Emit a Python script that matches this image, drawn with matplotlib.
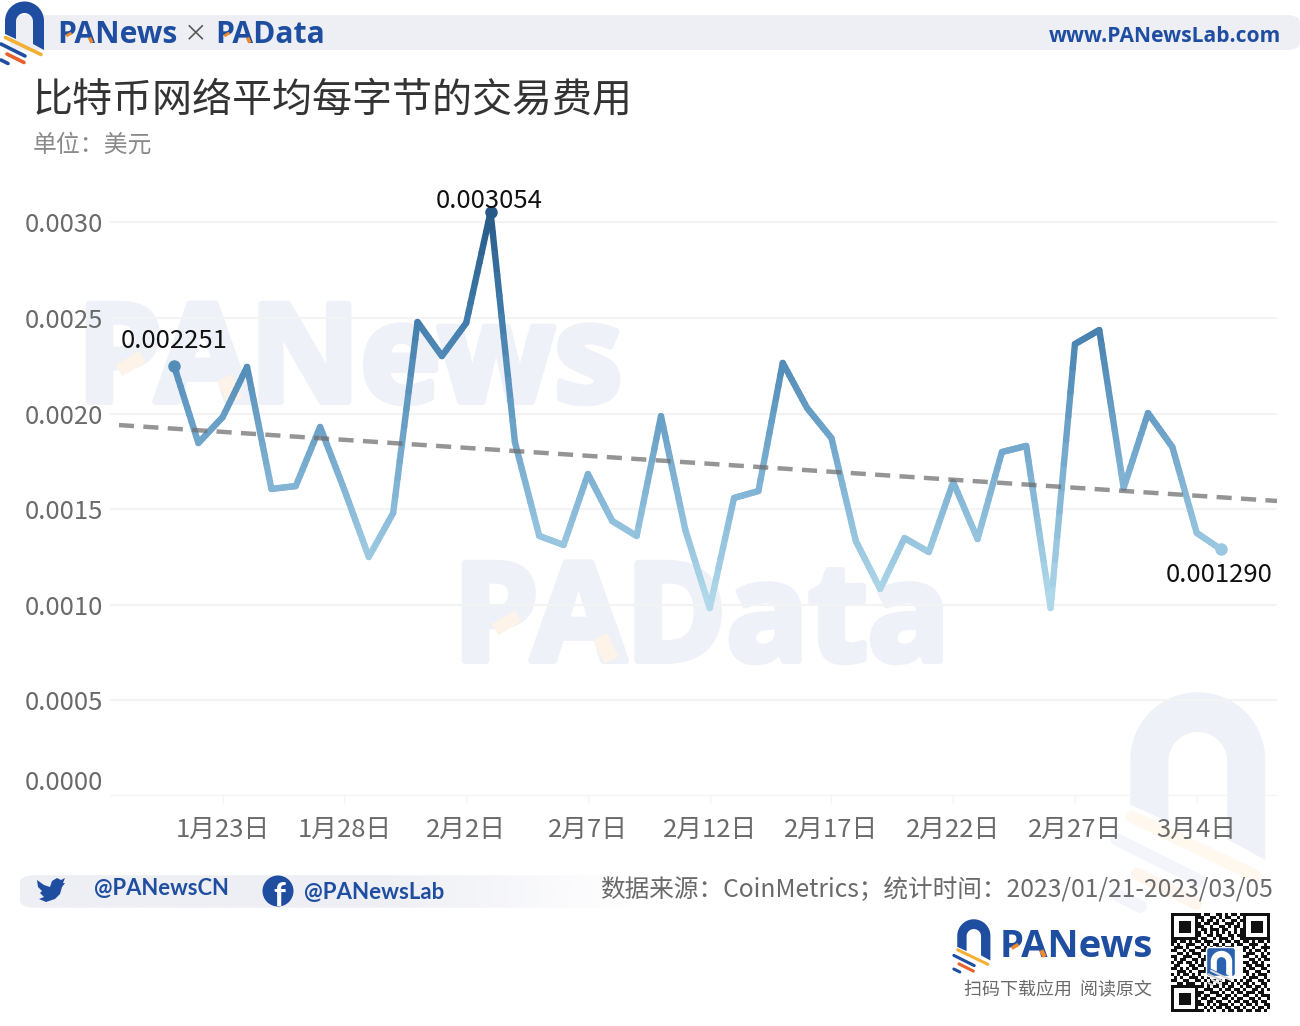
import numpy as np
import matplotlib
matplotlib.use('Agg')
from matplotlib import pyplot as plt
from matplotlib import patheffects as pe
from matplotlib.collections import LineCollection
from matplotlib.colors import LinearSegmentedColormap, Normalize
from matplotlib.patches import FancyBboxPatch, Polygon, Circle, Rectangle

plt.rcParams['font.family'] = ['Noto Sans CJK SC', 'DejaVu Sans']

# days since 2023/01/21
days = list(range(44))
fee = [0.002251, 0.001846, 0.001982, 0.002244, 0.001606, 0.001621, 0.001930, 0.001600,
       0.001250, 0.001480, 0.002479, 0.002301, 0.002474, 0.003054, 0.001851, 0.001360,
       0.001313, 0.001684, 0.001438, 0.001360, 0.001987, 0.001391, 0.000983, 0.001559,
       0.001595, 0.002265, 0.002029, 0.001872, 0.001334, 0.001083, 0.001349, 0.001276,
       0.001642, 0.001344, 0.001799, 0.001831, 0.000983, 0.002364, 0.002437, 0.001611,
       0.002003, 0.001825, 0.001376, 0.001290]
marked = {0: '0.002251', 13: '0.003054', 43: '0.001290'}

trend_days = [-2.26, 45.3]
trend_fee = [0.00194, 0.001543]

x_ticks = [2, 7, 12, 17, 22, 27, 32, 37, 42]
x_labels = ['1月23日', '1月28日', '2月2日', '2月7日', '2月12日', '2月17日', '2月22日', '2月27日', '3月4日']
y_ticks = [0, 0.0005, 0.001, 0.0015, 0.002, 0.0025, 0.003]
y_labels = ['0.0000', '0.0005', '0.0010', '0.0015', '0.0020', '0.0025', '0.0030']

title = '比特币网络平均每字节的交易费用'
unit = '单位：美元'
source = '数据来源：CoinMetrics；统计时间：2023/01/21-2023/03/05'

qr_rows = [
    '000000000101100110101101000000000',
    '000000000110011010110010000000000',
    '000000000010110101001101000000000',
    '000000000101101100111010000000000',
    '000000000110010011010110000000000',
    '000000000011011101100101000000000',
    '000000000101010101010101000000000',
    '000000000100110110011011000000000',
    '000000000011001011101001000000000',
    '110110101101110010110110110101101',
    '101001110010101101001011001110010',
    '011101001101010110111000110100111',
    '110010110011100000000000101011010',
    '001101011100100000000000011100101',
    '110011100101000000000000110010110',
    '010110011011000000000000001101011',
    '101101101010000000000000110110100',
    '011000110110000000000000011011101',
    '110101011001000000000000101100110',
    '001110100111000000000000110011001',
    '101011010100000000000000010101110',
    '010100111010100000000000101110010',
    '110011001101011010110101011001101',
    '001101110010110101101010110100110',
    '000000000110101101011001011011010',
    '000000000001110010110110100110101',
    '000000000110011101001011011101100',
    '000000000101100110110100110010111',
    '000000000011011001101011001101001',
    '000000000100110110010110110110110',
    '000000000110101011101001011010011',
    '000000000001010110110110100101101',
    '000000000110101001011011011011010',
]

BLUE = '#1f4ea1'
GRAY = '#6a6a6a'
PALE = '#eef1f8'

W, H = 1300, 1026
fig = plt.figure(figsize=(W / 100, H / 100), dpi=100)

# page layer in pixel coordinates, chart goes on top of it
bg = fig.add_axes([0, 0, 1, 1], zorder=0)


def band(x0, y0, x1, y1, fade_from=None):
    patch = FancyBboxPatch((x0 + 16, y0 + 8), x1 - x0 - 32, y1 - y0 - 16, boxstyle='round,pad=16',
                           mutation_aspect=(y1 - y0 - 2) / 64, fc='none', ec='none')
    bg.add_patch(patch)
    n = 256
    rgba = np.ones((1, n, 4))
    rgba[..., :3] = matplotlib.colors.to_rgb('#eeeff5')
    if fade_from is not None:
        rgba[..., 3] = np.clip((x1 - np.linspace(x0, x1, n)) / (x1 - fade_from), 0, 1)
    im = bg.imshow(rgba, extent=[x0, x1, y1, y0], aspect='auto', zorder=1)
    im.set_clip_path(patch)


def logo(left, top, s, c_arch=BLUE, c1='#f2b035', c2=BLUE, c3='#e8612c', c4=BLUE, zorder=3):
    # arch drawn from a half circle, stripes as thick segments
    t = np.linspace(np.pi, 0, 40)
    outer = np.c_[24.5 + 19.5 * np.cos(t), 21 - 19.5 * np.sin(t)]
    inner = np.c_[24.5 + 8.5 * np.cos(t), 21.5 - 8.5 * np.sin(t)]
    pts = np.vstack([[[5, 34]], outer, [[44, 50]], [[33, 44]], inner[::-1], [[16, 39]]])
    pts = pts * s + [left, top]
    bg.add_patch(Polygon(pts, closed=True, fc=c_arch, ec='none', zorder=zorder))
    stripes = [((5.5, 37.5), (41, 54.5), c1), ((1, 44), (25, 56), c2),
               ((7, 54), (24, 62.5), c3), ((1, 60), (8, 63.5), c4)]
    for a, b, c in stripes:
        bg.plot([left + a[0] * s, left + b[0] * s], [top + a[1] * s, top + b[1] * s], color=c,
                lw=2.6 * s, solid_capstyle='round', zorder=zorder + 1)


def brand(x, y, text, size, color=BLUE, accent='#ee8a2c', stroke=0, **kw):
    t = bg.text(x, y, text, fontsize=size, color=color, family=['Open Sans', 'DejaVu Sans'],
                fontweight='bold', va='center', **kw)
    if stroke:
        t.set_path_effects([pe.withStroke(linewidth=stroke, foreground=color)])
    if accent is not None:
        # orange bits of the P bowl and the A foot
        k = size / 21
        z = kw.get('zorder', 3) + 1
        bg.plot([x + 14 * k, x + 9 * k], [y - 2 * k, y + 1 * k], color=accent, lw=2 * k, zorder=z,
                solid_capstyle='butt')
        bg.plot([x + 31.5 * k, x + 34 * k], [y + 2.5 * k, y + 7.5 * k], color=accent, lw=2.4 * k, zorder=z,
                solid_capstyle='butt')
    return t


# watermarks
brand(77, 366, 'PANews', 98, color=PALE, accent='#fdf3e8', stroke=5, zorder=1)
brand(453, 625, 'PAData', 98, color=PALE, accent='#fdf3e8', stroke=5, zorder=1)
logo(1113, 687, 3.46, c_arch=PALE, c1='#fef8ee', c2='#f3f5fa', c3='#fef6ee', c4='#f3f5fa', zorder=1)

# header
band(10, 15, 1300, 50)
logo(0, 0, 1.0)
brand(57, 35, 'PANews', 21.6)
bg.text(196, 35, '×', fontsize=17, color='#555555', ha='center', va='center')
brand(215, 35, 'PAData', 21.6)
brand(1281, 37, 'www.PANewsLab.com', 15.1, accent=None, ha='right')

bg.text(33, 100, title, fontsize=28.8, color='#333333', va='center')
bg.text(33, 145, unit, fontsize=17.2, color='#8a8a8a', va='center')

# footer
band(20, 875, 640, 908, fade_from=380)
tw = np.array([[37, 880], [44, 885], [50, 887], [52, 881], [57, 878], [61, 880], [65, 878], [63, 883], [65, 883],
               [62, 887], [60, 894], [55, 899], [46, 902], [39, 899], [44, 897], [40, 893], [42, 891], [38, 887]])
bg.add_patch(Polygon(tw, closed=True, fc=BLUE, ec='none', zorder=3))
bg.add_patch(Circle((278, 891), 15.5, fc=BLUE, ec='none', zorder=3))
bg.text(279, 897, 'f', fontsize=24, color='white', fontweight='bold', family=['Lato', 'DejaVu Sans'],
        ha='center', va='center', zorder=4)
bg.text(94, 889, '@PANewsCN', fontsize=15.8, color=BLUE, fontweight='bold', family=['Lato', 'DejaVu Sans'],
        va='center', zorder=3)
bg.text(304, 893, '@PANewsLab', fontsize=16, color=BLUE, fontweight='bold', family=['Lato', 'DejaVu Sans'],
        va='center', zorder=3)
bg.text(1273, 891, source, fontsize=17.75, color=GRAY, ha='right', va='center', zorder=3)

logo(953, 918, 0.85)
brand(1000, 947, 'PANews', 27.5)
bg.text(1152, 990, '扫码下载应用  阅读原文', fontsize=12.95, color=GRAY, ha='right', va='center')

# qr code
qr_x, qr_y, cell = 1171, 913, 3.0
for r, row in enumerate(qr_rows):
    for c, bit in enumerate(row):
        if bit == '1':
            bg.add_patch(Rectangle((qr_x + c * cell, qr_y + r * cell), cell, cell, fc='#111111', ec='none'))
for fx, fy in [(0, 0), (24, 0), (0, 24)]:
    bg.add_patch(Rectangle((qr_x + fx * cell, qr_y + fy * cell), 9 * cell, 9 * cell, fc='#111111', ec='none'))
    bg.add_patch(Rectangle((qr_x + (fx + 1) * cell, qr_y + (fy + 1) * cell), 7 * cell, 7 * cell, fc='white', ec='none'))
    bg.add_patch(Rectangle((qr_x + (fx + 2.5) * cell, qr_y + (fy + 2.5) * cell), 4 * cell, 4 * cell, fc='#111111', ec='none'))
bg.add_patch(FancyBboxPatch((1208, 949), 26, 26, boxstyle='round,pad=1.5,rounding_size=3', fc='#2a62b0', ec='white', lw=1,
                            zorder=4))
logo(1208, 950, 0.55, c_arch='white', c1='#dddddd', c2='#cccccc', c3='#dddddd', c4='#cccccc', zorder=5)

bg.set_xlim(0, W)
bg.set_ylim(H, 0)
bg.axis('off')

# chart
ax = fig.add_axes([110 / W, (H - 796) / H, (1277 - 110) / W, (796 - 190) / H], zorder=1)
ax.patch.set_alpha(0)

# each segment is cut into short pieces only so the colour can run along the line
xs = np.concatenate([np.linspace(days[i], days[i + 1], 12)[:-1] for i in range(len(days) - 1)] + [[days[-1]]])
ys = np.interp(xs, days, fee)
pieces = np.stack([np.c_[xs[:-1], ys[:-1]], np.c_[xs[1:], ys[1:]]], axis=1)
cmap = LinearSegmentedColormap.from_list('fee', [(0, '#b3dbeb'), (0.25, '#8abbd9'), (0.5, '#659cc4'),
                                                 (0.75, '#3f7aaa'), (1, '#285a87')])
norm = Normalize(min(fee), max(fee))
lc = LineCollection(pieces, array=(ys[:-1] + ys[1:]) / 2, cmap=cmap, norm=norm, linewidths=4.6, capstyle='round',
                    joinstyle='round', zorder=3)
ax.add_collection(lc)

for i, text in marked.items():
    ax.plot(days[i], fee[i], 'o', ms=9, color=cmap(norm(fee[i])), mec='none', zorder=4)

ax.plot(trend_days, trend_fee, color='#6c6c6c', alpha=0.72, lw=3.2, ls=(0, (3.4, 2.1)), zorder=5)

ax.annotate(marked[0], (days[0], fee[0]), xytext=(0, 17.5), textcoords='offset points', ha='center', va='center',
            fontsize=18.5, color='#111111', zorder=6)
ax.annotate(marked[13], (days[13], fee[13]), xytext=(-1, 8), textcoords='offset points', ha='center', va='center',
            fontsize=18.5, color='#111111', zorder=6)
ax.annotate(marked[43], (days[43], fee[43]), xytext=(-1, -18.5), textcoords='offset points', ha='center', va='center',
            fontsize=18.5, color='#111111', zorder=6)

ax.set_xlim((110 - 174) / 24.35, (1277 - 174) / 24.35)
ax.set_ylim(0, 606 / 95.6 * 0.0005)
ax.set_xticks(x_ticks, x_labels)
ax.set_yticks(y_ticks, y_labels)
ax.tick_params(axis='x', length=5, width=1, color='#f3f3f3', labelsize=18.5, labelcolor=GRAY, pad=10)
ax.tick_params(axis='y', length=0, labelsize=18.5, labelcolor=GRAY, pad=5)
ax.get_yticklabels()[0].set_va('bottom')
ax.grid(axis='y', color='#f3f3f3', lw=1.5)
ax.set_axisbelow(True)
for s in ax.spines.values():
    s.set_visible(False)

fig.savefig('out.png', dpi=100)
